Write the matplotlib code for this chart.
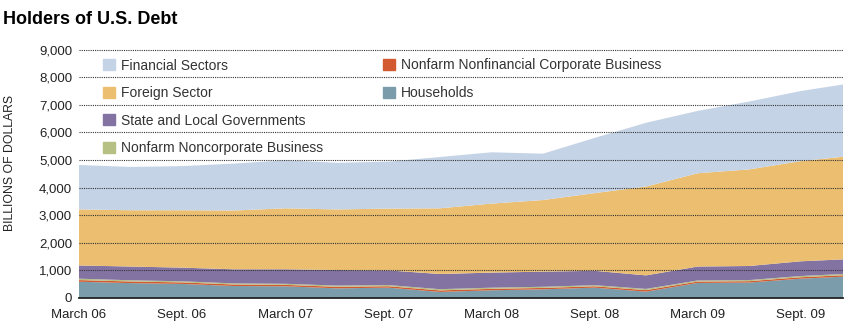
import matplotlib.pyplot as plt
from matplotlib.patches import Patch
import numpy as np

# Dati (miliardi di dollari), trimestrali da marzo 2006 a dicembre 2009
quarters = ["Mar 06", "Jun 06", "Sep 06", "Dec 06", "Mar 07", "Jun 07", "Sep 07", "Dec 07",
            "Mar 08", "Jun 08", "Sep 08", "Dec 08", "Mar 09", "Jun 09", "Sep 09", "Dec 09"]
households = [590, 540, 510, 435, 425, 350, 375, 220, 280, 315, 375, 230, 545, 560, 700, 790]
corporate = [60, 58, 55, 55, 52, 55, 52, 55, 52, 50, 50, 55, 50, 50, 52, 52]
noncorporate = [50, 45, 40, 40, 38, 45, 42, 45, 42, 42, 40, 45, 40, 40, 45, 45]
state_local = [480, 497, 495, 510, 525, 565, 531, 550, 546, 548, 520, 490, 505, 510, 533, 528]
foreign = [2030, 2040, 2080, 2130, 2210, 2195, 2240, 2380, 2500, 2595, 2815, 3220, 3380, 3500, 3630, 3740]
financial = [1610, 1570, 1600, 1700, 1740, 1690, 1700, 1860, 1860, 1680, 2000, 2310, 2260, 2460, 2540, 2635]

tick_labels = ["March 06", "Sept. 06", "March 07", "Sept. 07",
               "March 08", "Sept. 08", "March 09", "Sept. 09"]
y_ticks = list(range(0, 9001, 1000))

# Colori
C_HOUSE = "#7b9dab"
C_CORP = "#d35a30"
C_NONCORP = "#b7c083"
C_STATE = "#8373a3"
C_FOREIGN = "#ebbe70"
C_FIN = "#c5d3e6"

plt.rcParams['font.family'] = ['Liberation Sans', 'DejaVu Sans']

fig = plt.figure(figsize=(8.48, 3.30), dpi=100)
ax = fig.add_axes([79 / 848, 32 / 330, 764 / 848, 250 / 330])

x = np.arange(len(quarters))
ax.stackplot(x, households, corporate, noncorporate, state_local, foreign, financial,
             colors=[C_HOUSE, C_CORP, C_NONCORP, C_STATE, C_FOREIGN, C_FIN],
             linewidth=0, zorder=1)

ax.set_xlim(0, 14.82)
ax.set_ylim(0, 9060)

# Griglia tratteggiata sopra le aree
ax.set_yticks(y_ticks)
ax.set_yticklabels([f"{v:,}" for v in y_ticks], fontsize=9.5, color="#222222")
ax.yaxis.grid(True, linestyle=(0, (1, 1)), color="#333333", linewidth=0.8, zorder=2)
ax.set_axisbelow(False)
for t in ax.yaxis.get_major_ticks():
    t.tick1line.set_marker('o')
    t.tick1line.set_markersize(2.5)
    t.tick1line.set_color("#111111")
ax.tick_params(axis='y', length=0, pad=5)

ax.set_xticks(np.arange(0, 15, 2))
ax.set_xticklabels(tick_labels, fontsize=9.5, color="#222222")
ax.tick_params(axis='x', length=0, pad=8)

for s in ["left", "right", "top"]:
    ax.spines[s].set_visible(False)
ax.spines["bottom"].set_color("#222222")
ax.spines["bottom"].set_linewidth(1.3)
ax.spines["bottom"].set_zorder(3)

ax.set_ylabel("BILLIONS OF DOLLARS", fontsize=8.8, color="#222222")
ax.yaxis.set_label_coords(-0.082, 0.54)

fig.text(3 / 848, 1 - 20 / 330, "Holders of U.S. Debt", fontsize=13, fontweight="bold",
         family=["Liberation Sans Narrow", "Liberation Sans"], va="center", ha="left")

# Legenda in due colonne
col1 = [("Financial Sectors", C_FIN), ("Foreign Sector", C_FOREIGN),
        ("State and Local Governments", C_STATE), ("Nonfarm Noncorporate Business", C_NONCORP)]
col2 = [("Nonfarm Nonfinancial Corporate Business", C_CORP), ("Households", C_HOUSE)]

common = dict(loc="upper left", frameon=False, fontsize=10, handlelength=0.85, handleheight=0.85,
              handletextpad=0.45, labelspacing=0.98, borderpad=0, borderaxespad=0,
              labelcolor="#333333")
leg1 = ax.legend(handles=[Patch(color=c, label=l) for l, c in col1],
                 bbox_to_anchor=(24 / 764, 0.958), **common)
ax.add_artist(leg1)
ax.legend(handles=[Patch(color=c, label=l) for l, c in col2],
          bbox_to_anchor=(304 / 764, 0.958), **common)

fig.savefig("out.png", dpi=100)
